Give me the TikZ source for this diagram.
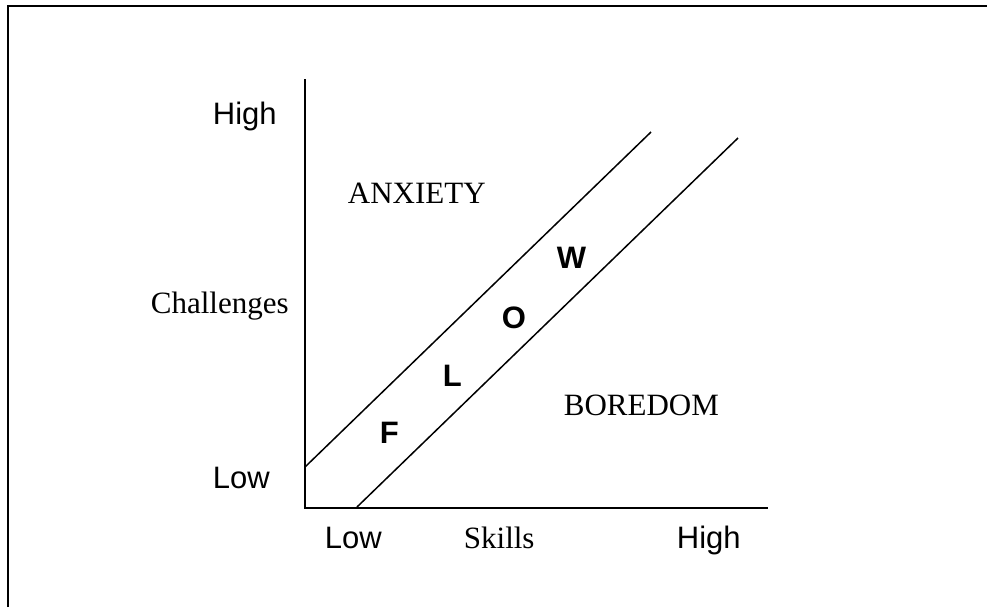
\documentclass[tikz,border=0pt]{standalone}
\usepackage{fontspec}
\setmainfont{Liberation Serif}
\setsansfont{Liberation Sans}

\begin{document}
\begin{tikzpicture}[x=0.5pt, y=-0.5pt, line width=0.9pt,
  txt/.style={inner sep=0pt, anchor=base west, font=\fontsize{15.5}{18}\selectfont},
  axtxt/.style={inner sep=0pt, anchor=base west, font=\sffamily\fontsize{15.5}{18}\selectfont},
  flowtxt/.style={inner sep=0pt, anchor=base west, font=\sffamily\bfseries\fontsize{15.5}{18}\selectfont}]
  \useasboundingbox (0,0) rectangle (987,607);

  % open frame
  \coordinate (frbl) at (8,607);
  \coordinate (frtl) at (8,6);
  \coordinate (frtr) at (987,6);
  \draw[line width=1.2pt] (frbl) -- (frtl) -- (frtr);

  % axes
  \coordinate (orig) at (305,508);
  \coordinate (ytop) at (305,79);
  \coordinate (xend) at (768,508);
  \draw (ytop) -- (orig) -- (xend);

  % flow channel
  \coordinate (upa) at (305,467);
  \coordinate (upb) at (651,132);
  \coordinate (loa) at (357,507);
  \coordinate (lob) at (738,138);
  \draw[line width=0.75pt] (upa) -- (upb);
  \draw[line width=0.75pt] (loa) -- (lob);

  % axis labels
  \node[axtxt] (yhigh) at (212,124) {High};
  \node[axtxt] (ylow) at (212,488) {Low};
  \node[txt] (ylab) at (150,313) {Challenges};
  \node[axtxt] (xlow) at (324,548) {Low};
  \node[txt] (xlab) at (463,548) {Skills};
  \node[axtxt] (xhigh) at (676,548) {High};

  % regions
  \node[txt] (anx) at (347,203) {ANXIETY};
  \node[txt] (bore) at (563,415) {BOREDOM};

  % F L O W
  \node[flowtxt] (fF) at (379,443) {F};
  \node[flowtxt] (fL) at (442,386) {L};
  \node[flowtxt] (fO) at (501,328) {O};
  \node[flowtxt] (fW) at (556,268) {W};
\end{tikzpicture}
\end{document}
